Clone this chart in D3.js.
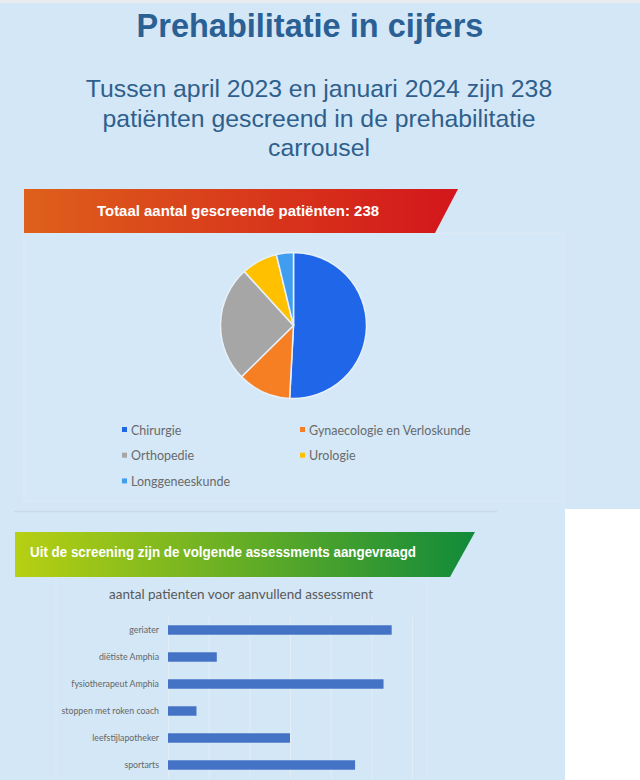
<!DOCTYPE html>
<html lang="nl">
<head>
<meta charset="utf-8">
<script src="https://cdn.jsdelivr.net/npm/d3@7"></script>
<style>
  body { margin: 0; background: #d3e7f7; }
  svg { display: block; }
</style>
</head>
<body>
<script>
// Data
const specialisms = ["Chirurgie", "Gynaecologie en Verloskunde", "Orthopedie", "Urologie", "Longgeneeskunde"]
const patients = [121, 28, 61, 19, 9]
const sliceColors = ["#1f67e8", "#f67f24", "#a6a6a6", "#ffc000", "#409df0"]

const assessments = ["geriater", "diëtiste Amphia", "fysiotherapeut Amphia", "stoppen met roken coach", "leefstijlapotheker", "sportarts"]
const assessmentCounts = [55, 12, 53, 7, 30, 46]
const xTicks = [0, 10, 20, 30, 40, 50, 60]

const W = 640, H = 780
const svg = d3.select("body").append("svg").attr("width", W).attr("height", H)

// background
svg.append("rect").attr("width", W).attr("height", H).attr("fill", "#d3e7f7")
svg.append("rect").attr("width", W).attr("height", 3).attr("fill", "#e9ecef")

// headings
svg.append("text").attr("x", 310).attr("y", 37).attr("text-anchor", "middle")
  .attr("font-family", "Liberation Sans, Arial, sans-serif").attr("font-weight", "bold")
  .attr("font-size", 32.5).attr("fill", "#2a6094").text("Prehabilitatie in cijfers")

const sub = ["Tussen april 2023 en januari 2024 zijn 238", "patiënten gescreend in de prehabilitatie", "carrousel"]
svg.selectAll("text.sub").data(sub).enter().append("text").attr("class", "sub")
  .attr("x", 319).attr("y", (d, i) => 97 + i * 29.7).attr("text-anchor", "middle")
  .attr("font-family", "Liberation Sans, Arial, sans-serif")
  .attr("font-size", 24.8).attr("fill", "#2f5f8c").text(d => d)

// gradients
const defs = svg.append("defs")
function grad(id, c1, c2) {
  const g = defs.append("linearGradient").attr("id", id).attr("x1", "0%").attr("x2", "100%")
  g.append("stop").attr("offset", "0%").attr("stop-color", c1)
  g.append("stop").attr("offset", "100%").attr("stop-color", c2)
}
grad("gOrange", "#de601b", "#d3161b")
grad("gGreen", "#b7d012", "#118a3a")

// pie panel
svg.append("rect").attr("x", 24).attr("y", 233).attr("width", 540).attr("height", 268)
  .attr("fill", "#d4e8f8").attr("stroke", "#dde9f4").attr("stroke-width", 1.2)

// orange banner
svg.append("path").attr("d", "M24,189 L458,189 L435,233 L24,233 Z").attr("fill", "url(#gOrange)")
svg.append("text").attr("x", 97).attr("y", 216)
  .attr("font-family", "Liberation Sans, Arial, sans-serif").attr("font-weight", "bold")
  .attr("font-size", 15).attr("fill", "#fff")
  .attr("textLength", 282).attr("lengthAdjust", "spacingAndGlyphs")
  .text("Totaal aantal gescreende patiënten: 238")

// pie
const pie = d3.pie().sort(null)
const arc = d3.arc().innerRadius(0).outerRadius(73)
svg.append("g").attr("transform", "translate(293.5,325.5)")
  .selectAll("path").data(pie(patients)).enter().append("path")
  .attr("d", arc).attr("fill", (d, i) => sliceColors[i])
  .attr("stroke", "#e8f1f9").attr("stroke-width", 1.5)

// legend
const legend = svg.append("g")
specialisms.forEach((s, i) => {
  const col = i % 2, row = Math.floor(i / 2)
  const x = col === 0 ? 122 : 300
  const y = 430 + row * 25.7
  legend.append("rect").attr("x", x).attr("y", y - 3).attr("width", 5).attr("height", 5).attr("fill", sliceColors[i])
  legend.append("text").attr("x", x + 9).attr("y", y + 4.5)
    .attr("font-family", "Lato, sans-serif").attr("font-size", 12.5).attr("fill", "#6a6a6a").text(s)
})

// separator line + white box
svg.append("line").attr("x1", 14).attr("x2", 497).attr("y1", 511.5).attr("y2", 511.5)
  .attr("stroke", "#c9d9e6").attr("stroke-width", 1.5)
svg.append("rect").attr("x", 565).attr("y", 509).attr("width", 75).attr("height", 271).attr("fill", "#fff")

// bar panel
svg.append("rect").attr("x", 56).attr("y", 577).attr("width", 371).attr("height", 220)
  .attr("fill", "#d3e7f7").attr("stroke", "#dde9f4").attr("stroke-width", 1)

// green banner
svg.append("path").attr("d", "M15,532 L475,532 L450,577 L15,577 Z").attr("fill", "url(#gGreen)")
svg.append("text").attr("x", 30).attr("y", 557)
  .attr("font-family", "Liberation Sans, Arial, sans-serif").attr("font-weight", "bold")
  .attr("font-size", 14.5).attr("fill", "#fff")
  .attr("textLength", 386).attr("lengthAdjust", "spacingAndGlyphs")
  .text("Uit de screening zijn de volgende assessments aangevraagd")

svg.append("text").attr("x", 241).attr("y", 599).attr("text-anchor", "middle")
  .attr("font-family", "Lato, sans-serif").attr("font-size", 13.5).attr("fill", "#595959")
  .text("aantal patienten voor aanvullend assessment")

// bar chart
const plot = { left: 168, right: 412, top: 616.5, bottom: 778.5 }
const x = d3.scaleLinear().domain([0, 60]).range([plot.left, plot.right])
const y = d3.scaleBand().domain(assessments).range([plot.top, plot.bottom]).paddingInner(0.65).paddingOuter(0.325)

// gridlines only: the value labels fall below the visible area
const gx = svg.append("g").attr("transform", `translate(0,${plot.bottom})`)
  .call(d3.axisBottom(x).tickValues(xTicks).tickSize(-(plot.bottom - plot.top)).tickFormat(""))
gx.select(".domain").remove()
gx.selectAll(".tick line").attr("stroke", "#e3edf6").attr("stroke-width", 1)

svg.append("g").selectAll("rect").data(assessments).enter().append("rect")
  .attr("x", x(0)).attr("y", d => y(d))
  .attr("width", (d, i) => x(assessmentCounts[i]) - x(0)).attr("height", y.bandwidth())
  .attr("fill", "#4472c4")

svg.append("g").selectAll("text").data(assessments).enter().append("text")
  .attr("x", 159).attr("y", d => y(d) + y.bandwidth() / 2 + 3.2).attr("text-anchor", "end")
  .attr("font-family", "Lato, sans-serif").attr("font-size", 8.8).attr("fill", "#666")
  .text(d => d)
</script>
</body>
</html>
